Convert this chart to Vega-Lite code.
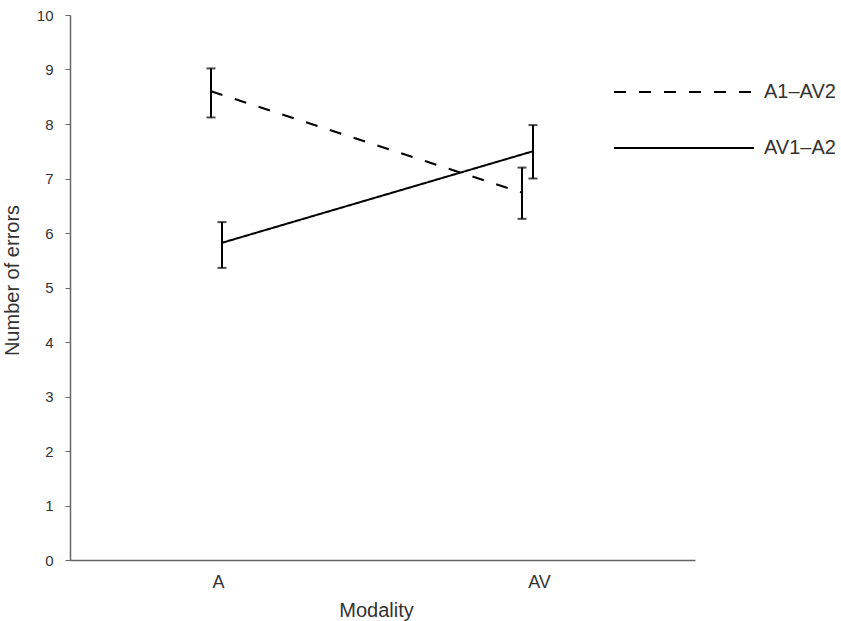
{
  "$schema": "https://vega.github.io/schema/vega-lite/v6.json",
  "autosize": "none",
  "padding": {"left": 70, "top": 15, "right": 146, "bottom": 61},
  "width": 625,
  "height": 545,
  "background": "white",
  "config": {
    "view": {"stroke": null},
    "font": "Liberation Sans",
    "axis": {"labelColor": "#333", "titleColor": "#333", "domainColor": "#666", "tickColor": "#666", "grid": false, "labelFont": "Liberation Sans", "titleFont": "Liberation Sans", "titleFontWeight": "normal"}
  },
  "data": {
    "values": [
      {"Modality": "A", "Group": "A1–AV2", "mean": 8.6, "lo": 8.12, "hi": 9.02},
      {"Modality": "AV", "Group": "A1–AV2", "mean": 6.74, "lo": 6.26, "hi": 7.2},
      {"Modality": "A", "Group": "AV1–A2", "mean": 5.82, "lo": 5.36, "hi": 6.2},
      {"Modality": "AV", "Group": "AV1–A2", "mean": 7.5, "lo": 7.0, "hi": 7.98}
    ]
  },
  "encoding": {
    "x": {
      "field": "Modality", "type": "nominal",
      "scale": {"type": "band", "paddingInner": 0.92926, "paddingOuter": 0.4695, "align": 0.464},
      "axis": {"labelAngle": 0, "labelFontSize": 18, "tickSize": 0, "labelPadding": 13,
        "labelOffset": {"condition": {"test": "datum.value == 'AV'", "value": 12}, "value": 2},
        "title": "Modality", "titleFontSize": 20, "titlePadding": 9, "titleX": 306, "domainWidth": 1.5}
    },
    "xOffset": {"field": "Group", "type": "nominal", "scale": {"domain": ["A1–AV2", "AV1–A2"], "paddingInner": 0, "paddingOuter": 0}}
  },
  "layer": [
    {
      "mark": {"type": "line", "color": "black", "strokeWidth": 2},
      "encoding": {
        "y": {"field": "mean", "type": "quantitative", "scale": {"domain": [0, 10]},
          "axis": {"title": "Number of errors", "titleFontSize": 20, "labelFontSize": 15, "tickCount": 10, "tickSize": 5, "labelPadding": 12, "titlePadding": 14, "titleY": 265, "domainWidth": 1.5}},
        "strokeDash": {
          "field": "Group", "type": "nominal",
          "scale": {"domain": ["A1–AV2", "AV1–A2"], "range": [[12, 13], [1, 0]]},
          "legend": {"title": null, "orient": "none", "legendX": 674, "legendY": 67, "symbolType": "M-20,0H0", "symbolSize": 196, "symbolStrokeWidth": 2, "symbolStrokeColor": "black", "labelFontSize": 20, "labelColor": "#333", "labelOffset": 0, "rowPadding": 36}
        }
      }
    },
    {
      "mark": {"type": "rule", "color": "black", "strokeWidth": 2},
      "encoding": {"y": {"field": "lo", "type": "quantitative"}, "y2": {"field": "hi"}}
    },
    {
      "mark": {"type": "tick", "color": "black", "thickness": 2, "size": 9},
      "encoding": {"y": {"field": "lo", "type": "quantitative"}}
    },
    {
      "mark": {"type": "tick", "color": "black", "thickness": 2, "size": 9},
      "encoding": {"y": {"field": "hi", "type": "quantitative"}}
    }
  ]
}
